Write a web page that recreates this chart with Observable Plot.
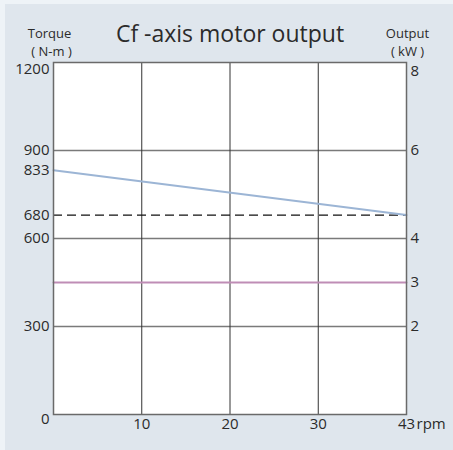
<!DOCTYPE html>
<html>
<head>
<meta charset="utf-8">
<script src="https://cdn.jsdelivr.net/npm/d3@7"></script>
<script src="https://cdn.jsdelivr.net/npm/@observablehq/plot@0.6"></script>
<style>
  html, body { margin: 0; padding: 0; background: #eef3f7; }
  #wrap { position: relative; width: 453px; height: 450px; overflow: hidden; background: #eef3f7; }
  #panel { position: absolute; left: 5px; top: 4px; right: 0; bottom: 0; background: #dfe6ed; }
  #chart { position: absolute; left: 0; top: 0; }
  svg { font-family: "Open Sans", sans-serif; }
</style>
</head>
<body>
<div id="wrap"><div id="panel"></div><div id="chart"></div></div>
<script>
// Data
const title = "Cf -axis motor output";
const leftTitle = ["Torque", "( N-m )"];
const rightTitle = ["Output", "( kW )"];
const xTicks = [10, 20, 30, 43];
const xUnit = "rpm";
const torqueTicks = [300, 600, 680, 833, 900];
const torqueTop = 1200;
const torqueZero = 0;
const outputTicks = [2, 3, 4, 6];
const outputTop = 8;
const kWPerTorque = 1 / 150; // right axis: 1200 N-m ↔ 8 kW
const gridTorque = [300, 600, 900];
const gridRpm = [10, 20, 30];
const torqueRpm = [0, 43];
const torqueCurve = [833, 680];
const ratedTorque = 680;
const outputRpm = [0, 43];
const outputKW = [3, 3];

const curve = torqueRpm.map((r, i) => ({rpm: r, torque: torqueCurve[i]}));
const outLine = outputRpm.map((r, i) => ({rpm: r, torque: outputKW[i] / kWPerTorque}));

const ink = "#2b2b2b";
const fs = 15;
const hs = 13;
const tf = d => String(d);
const kf = d => String(Math.round(d * kWPerTorque));

const plot = Plot.plot({
  width: 453,
  height: 450,
  marginLeft: 53,
  marginRight: 47,
  marginTop: 62,
  marginBottom: 36,
  style: {background: "transparent", fontFamily: "'Open Sans', sans-serif", color: ink},
  x: {type: "linear", domain: [0, 10, 20, 30, 43]},
  y: {type: "linear", domain: [0, 1200]},
  marks: [
    Plot.frame({fill: "white", stroke: null}),
    Plot.ruleY(gridTorque, {stroke: "#7a7a7a", strokeWidth: 1.6}),
    Plot.ruleX(gridRpm, {stroke: "#333", strokeWidth: 1}),
    Plot.ruleY([ratedTorque], {stroke: "#111", strokeWidth: 1.3, strokeDasharray: "9,5"}),
    Plot.line(outLine, {x: "rpm", y: "torque", stroke: "#bf8db6", strokeWidth: 2}),
    Plot.line(curve, {x: "rpm", y: "torque", stroke: "#9cb5d5", strokeWidth: 2}),
    Plot.frame({stroke: "#6a6a6a", strokeWidth: 1.5}),
    // left axis
    Plot.axisY(torqueTicks, {anchor: "left", tickSize: 0, tickPadding: 4, fontSize: fs, label: null, tickFormat: tf, fill: ink}),
    Plot.axisY([torqueTop], {anchor: "left", tickSize: 0, tickPadding: 4, fontSize: fs, label: null, tickFormat: tf, dy: 7, fill: ink}),
    Plot.axisY([torqueZero], {anchor: "left", tickSize: 0, tickPadding: 4, fontSize: fs, label: null, tickFormat: tf, dy: 5, fill: ink}),
    // right axis
    Plot.axisY(outputTicks.map(k => k / kWPerTorque), {anchor: "right", tickSize: 0, tickPadding: 4, fontSize: fs, label: null, tickFormat: kf, fill: ink}),
    Plot.axisY([outputTop / kWPerTorque], {anchor: "right", tickSize: 0, tickPadding: 4, fontSize: fs, label: null, tickFormat: kf, dy: 9, fill: ink}),
    // x axis
    Plot.axisX(xTicks, {anchor: "bottom", tickSize: 0, tickPadding: 4, fontSize: fs, label: null, tickFormat: tf, fill: ink}),
    Plot.text([xUnit], {x: () => 43, frameAnchor: "bottom", text: d => d, textAnchor: "start", lineAnchor: "top", dy: 4, dx: 10, fontSize: fs, fill: ink}),
    // titles
    Plot.text([title], {frameAnchor: "top", text: d => d, lineAnchor: "middle", dy: -28, fontSize: 23, fill: ink}),
    Plot.text([leftTitle[0]], {frameAnchor: "top-left", text: d => d, textAnchor: "middle", lineAnchor: "middle", dx: -4, dy: -28.7, fontSize: hs, fill: ink}),
    Plot.text([leftTitle[1]], {frameAnchor: "top-left", text: d => d, textAnchor: "middle", lineAnchor: "middle", dx: -2, dy: -10.7, fontSize: hs, fill: ink}),
    Plot.text([rightTitle[0]], {frameAnchor: "top-right", text: d => d, textAnchor: "middle", lineAnchor: "middle", dx: 1, dy: -28.7, fontSize: hs, fill: ink}),
    Plot.text([rightTitle[1]], {frameAnchor: "top-right", text: d => d, textAnchor: "middle", lineAnchor: "middle", dx: 1, dy: -10.7, fontSize: hs, fill: ink})
  ]
});
document.getElementById("chart").appendChild(plot);
</script>
</body>
</html>
